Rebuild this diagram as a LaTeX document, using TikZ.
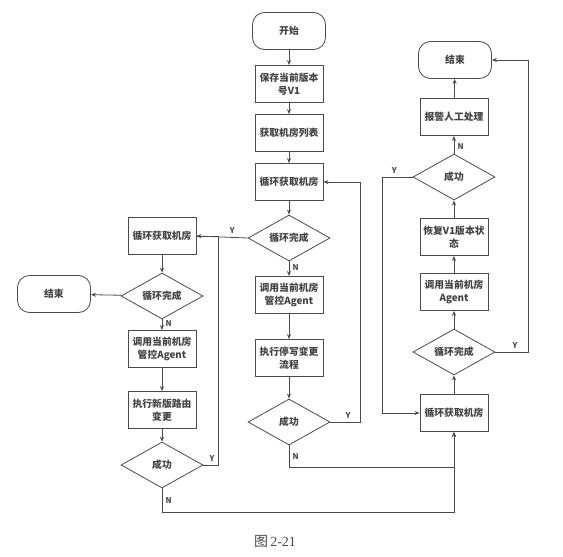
\documentclass[tikz,border=0pt]{standalone}
\usepackage{fontspec}
\setmainfont{Noto Sans CJK SC}
\newfontfamily\capfont{Liberation Serif}
\usetikzlibrary{shapes.geometric,arrows.meta}
\definecolor{ink}{HTML}{4A4A4A}
\tikzset{
  box/.style={draw=ink, thick, minimum width=68pt, minimum height=37pt, align=center, inner sep=1pt},
  term/.style={draw=ink, thick, rounded corners=12pt, minimum width=73pt, minimum height=37pt},
  decision/.style={draw=ink, thick, diamond, aspect=1.8, minimum width=82pt, minimum height=46pt, inner sep=0pt},
  flow/.style={draw=ink, thick, -{Stealth[length=5pt,width=4pt]}},
  link/.style={draw=ink, thick},
  yn/.style={font=\bfseries\footnotesize, text=ink}
}
\begin{document}
\begin{tikzpicture}[x=1pt, y=-1pt, every node/.style={font=\bfseries\fontsize{9.8}{13}\selectfont, text=ink!90!black}]
  \useasboundingbox (0,0) rectangle (563,557);
  % middle column
  \node[term] (start) at (289,31) {开始};
  \node[box] (saveV) at (289,84) {保存当前版本\\号V1};
  \node[box] (listM) at (289,133) {获取机房列表};
  \node[box] (loopM) at (289,182) {循环获取机房};
  \node[decision] (doneM) at (289,238) {循环完成};
  \node[box] (callM) at (289,295) {调用当前机房\\管控Agent};
  \node[box] (execM) at (289,358) {执行停写变更\\流程};
  \node[decision] (okM) at (289,422) {成功};
  % left column
  \node[box] (loopL) at (162,236) {循环获取机房};
  \node[decision] (doneL) at (162,296) {循环完成};
  \node[term] (endL) at (54,294) {结束};
  \node[box] (callL) at (162,349) {调用当前机房\\管控Agent};
  \node[box] (execL) at (162,410) {执行新版路由\\变更};
  \node[decision] (okL) at (162,465) {成功};
  % right column
  \node[term] (endR) at (455,60) {结束};
  \node[box] (alarm) at (454,117) {报警人工处理};
  \node[decision] (okR) at (454,177) {成功};
  \node[box] (backR) at (454,237) {恢复V1版本状\\态};
  \node[box] (callR) at (454,292) {调用当前机房\\Agent};
  \node[decision] (doneR) at (454,352) {循环完成};
  \node[box] (loopR) at (454,413) {循环获取机房};
  % corner points
  \coordinate (jM) at (360,422);
  \coordinate (jL) at (218,465);
  \coordinate (bM) at (289,467);
  \coordinate (bL) at (162,512);
  \coordinate (jR) at (528,352);
  \coordinate (kR) at (382,177);
  % middle links
  \draw[flow] (start) -- (saveV);
  \draw[flow] (saveV) -- (listM);
  \draw[flow] (listM) -- (loopM);
  \draw[flow] (loopM) -- (doneM);
  \draw[flow] (doneM) -- node[yn, right, pos=0.4] {N} (callM);
  \draw[flow] (callM) -- (execM);
  \draw[flow] (execM) -- (okM);
  \draw[flow] (okM.east) -- node[yn, above, pos=0.6] {Y} (jM) |- (loopM.east);
  \draw[flow] (okM.south) -- node[yn, right] {N} (bM) -| (loopR.south);
  \draw[flow] (doneM.west) -- node[yn, above, pos=0.3] {Y} (loopL.east);
  % left links
  \draw[flow] (loopL) -- (doneL);
  \draw[flow] (doneL) -- (endL);
  \draw[flow] (doneL) -- node[yn, right, pos=0.4] {N} (callL);
  \draw[flow] (callL) -- (execL);
  \draw[flow] (execL) -- (okL);
  \draw[link] (okL.east) -- node[yn, above, pos=0.6] {Y} (jL) |- (loopL.east);
  \draw[flow] (okL.south) -- node[yn, right] {N} (bL) -| (loopR.south);
  % right links
  \draw[flow] (loopR) -- (doneR);
  \draw[flow] (doneR) -- (callR);
  \draw[flow] (callR) -- (backR);
  \draw[flow] (backR) -- (okR);
  \draw[flow] (okR) -- node[yn, right, pos=0.4] {N} (alarm);
  \draw[flow] (alarm) -- (endR);
  \draw[flow] (doneR.east) -- node[yn, above, pos=0.6] {Y} (jR) |- (endR.east);
  \draw[flow] (okR.west) -- node[yn, above, pos=0.6] {Y} (kR) |- (loopR.west);
  % caption
  \node[font=\fontsize{14}{16}\selectfont, text=ink] (cap) at (275,541) {图\,\capfont 2-21};
\end{tikzpicture}
\end{document}
